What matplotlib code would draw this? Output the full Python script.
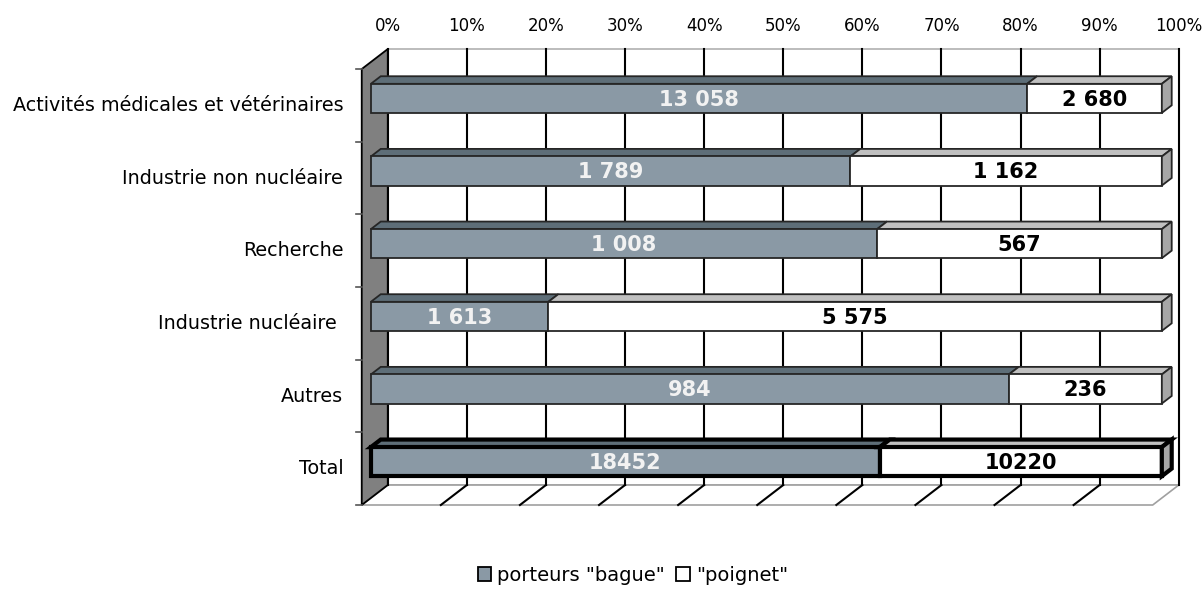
import matplotlib
matplotlib.use("Agg")
import matplotlib.pyplot as plt
from matplotlib.patches import Polygon, Rectangle
from matplotlib.lines import Line2D

# data
categories = ["Activités médicales et vétérinaires", "Industrie non nucléaire",
              "Recherche", "Industrie nucléaire ", "Autres", "Total"]
bague = [13058, 1789, 1008, 1613, 984, 18452]
poignet = [2680, 1162, 567, 5575, 236, 10220]
series_names = ['porteurs "bague"', '"poignet"']
ticks = list(range(0, 101, 10))

# colours
bague_front = "#8a99a5"
bague_top = "#5e6e78"
poig_front = "#ffffff"
poig_top = "#c0c0c0"
side_col = "#a6a6a6"
wall_col = "#808080"

# 3d depth offset in data units (x in %, y in category bands)
DX = 3.29
DY = 0.275
Z0, Z1 = 0.35, 0.73   # bar depth range
n = len(categories)


def proj(x, y, z):
    return (x + z * DX, y + z * DY)


def poly(ax, pts, fc, ec, lw, zo):
    ax.add_patch(Polygon(pts, closed=True, facecolor=fc, edgecolor=ec,
                         linewidth=lw, zorder=zo, clip_on=False,
                         joinstyle="miter"))


fig = plt.figure(figsize=(12.03, 5.93), dpi=100)
ax = fig.add_axes([0.3007, 0.1484, 0.6575, 0.7352])
ax.set_xlim(0, 100)
ax.set_ylim(0, n)
ax.axis("off")

# back wall
poly(ax, [proj(0, 0, 1), proj(100, 0, 1), proj(100, n, 1), proj(0, n, 1)],
     "white", "#b0b0b0", 1.2, 1)
# floor
poly(ax, [proj(0, 0, 0), proj(100, 0, 0), proj(100, 0, 1), proj(0, 0, 1)],
     "white", "#a0a0a0", 1.2, 1)
# gridlines on back wall and floor
for t in ticks:
    x0, y0 = proj(t, 0, 1)
    x1, y1 = proj(t, n, 1)
    ax.add_line(Line2D([x0, x1], [y0, y1], color="black", lw=1.5,
                       zorder=2, clip_on=False))
    if 0 < t < 100:
        xa, ya = proj(t, 0, 0)
        ax.add_line(Line2D([xa, x0], [ya, y0], color="black", lw=1.5,
                           zorder=2, clip_on=False))
    ax.text(x1, n + 0.59, f"{t}%", ha="center", va="center", fontsize=12)
# left wall
poly(ax, [proj(0, 0, 0), proj(0, n, 0), proj(0, n, 1), proj(0, 0, 1)],
     wall_col, "black", 1.3, 3)

# y ticks and category labels
for k in range(n + 1):
    ax.add_line(Line2D([-0.75, 0], [k, k], color="#555555", lw=1.2,
                       clip_on=False, zorder=3))
for k, cat in enumerate(categories):
    ax.text(-2.35, n - k - 0.5, cat, ha="right", va="center", fontsize=13.8)

# bars
for k in range(n):
    total = bague[k] + poignet[k]
    shares = [bague[k] / total * 100, poignet[k] / total * 100]
    vals = [bague[k], poignet[k]]
    fronts = [bague_front, poig_front]
    tops = [bague_top, poig_top]
    tcols = ["#f2f2f2", "black"]
    is_total = categories[k] == "Total"
    lw = 3.0 if is_total else 1.3
    ec = "black" if is_total else "#262626"
    y0 = n - k - 1 + 0.3
    y1 = y0 + 0.4
    left = 0
    for j in range(2):
        right = left + shares[j]
        zo = 5 + j
        # top face
        poly(ax, [proj(left, y1, Z0), proj(right, y1, Z0),
                  proj(right, y1, Z1), proj(left, y1, Z1)], tops[j], ec, lw, zo)
        # front face
        fx0, fy0 = proj(left, y0, Z0)
        fx1, fy1 = proj(right, y1, Z0)
        ax.add_patch(Rectangle((fx0, fy0), fx1 - fx0, fy1 - fy0,
                               facecolor=fronts[j], edgecolor=ec, linewidth=lw,
                               zorder=zo, clip_on=False, joinstyle="miter"))
        if j == 1:
            poly(ax, [proj(right, y0, Z0), proj(right, y1, Z0),
                      proj(right, y1, Z1), proj(right, y0, Z1)],
                 side_col, ec, lw, zo)
        if is_total:
            lab = f"{vals[j]}"
        else:
            lab = f"{vals[j]:,}".replace(",", " ")
        ax.text((fx0 + fx1) / 2, (fy0 + fy1) / 2 - 0.02, lab, ha="center",
                va="center", fontsize=15, fontweight="bold", color=tcols[j],
                zorder=10)
        left = right

# legend
handles = [Rectangle((0, 0), 1, 1, facecolor=bague_front, edgecolor="black", lw=1.3),
           Rectangle((0, 0), 1, 1, facecolor=poig_front, edgecolor="black", lw=1.3)]
fig.legend(handles, series_names, loc="center", bbox_to_anchor=(0.526, 0.03),
           ncol=2, frameon=False, fontsize=14, handlelength=0.7,
           handleheight=0.7, handletextpad=0.3, columnspacing=0.6)

fig.savefig("out.png", dpi=100)
